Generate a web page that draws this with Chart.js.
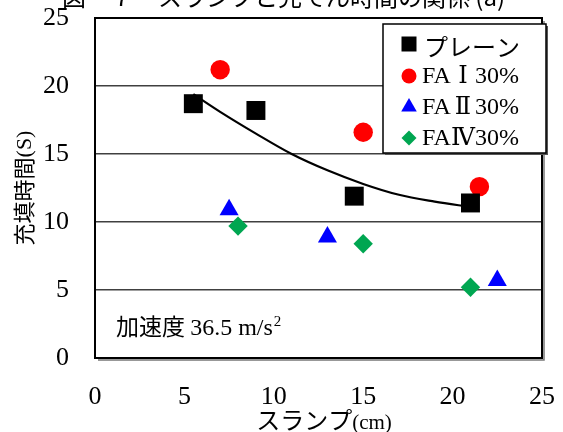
<!DOCTYPE html>
<html>
<head>
<meta charset="utf-8">
<script src="https://cdn.jsdelivr.net/npm/chart.js@4.4.0/dist/chart.umd.min.js"></script>
<style>
  body { margin: 0; background: #fff; }
  canvas { display: block; }
</style>
</head>
<body>
<canvas id="chart" width="563" height="432"></canvas>
<script>
// values
const plainX = [5.5, 9, 14.5, 21];
const plainY = [18.7, 18.2, 11.9, 11.4];
const fa1X = [7, 15, 21.5];
const fa1Y = [21.2, 16.6, 12.6];
const fa2X = [7.5, 13, 22.5];
const fa2Y = [10.9, 8.9, 5.7];
const fa4X = [8, 15, 21];
const fa4Y = [9.7, 8.4, 5.2];
// trend curve through the plain series
const trendX = [5.5, 7, 9, 11, 13, 15, 17, 19, 21];
const trendY = [19.4, 18.1, 16.5, 15.0, 13.8, 12.8, 12.0, 11.5, 11.1];

const seriesNames = ["プレーン", "FAⅠ30%", "FAⅡ30%", "FAⅣ30%"];
const titleText = "図－７－スランプと充てん時間の関係 (a)";

const SERIF = "'Liberation Serif', 'DejaVu Serif', 'Noto Sans CJK JP'";
const JP = "'Noto Sans CJK JP'";

function pts(xs, ys) {
  return xs.map((x, i) => ({ x: x, y: ys[i] }));
}

// draws a run of text pieces with different fonts
function drawPieces(ctx, pieces, x, y) {
  let cx = x;
  pieces.forEach((p) => {
    ctx.font = p.font;
    const w = ctx.measureText(p.text).width;
    const box = p.box || w;
    ctx.fillText(p.text, cx + (box - w) / 2, y + (p.dy || 0));
    cx += box;
  });
  return cx - x;
}
function piecesWidth(ctx, pieces) {
  let w = 0;
  pieces.forEach((p) => {
    ctx.font = p.font;
    w += p.box || ctx.measureText(p.text).width;
  });
  return w;
}

function marker(ctx, style, x, y, r, color) {
  ctx.fillStyle = color;
  ctx.beginPath();
  if (style === "rect") {
    ctx.rect(x - r, y - r, 2 * r, 2 * r);
  } else if (style === "circle") {
    ctx.arc(x, y, r, 0, Math.PI * 2);
  } else if (style === "triangle") {
    ctx.moveTo(x, y - r);
    ctx.lineTo(x + r * 0.866, y + r / 2);
    ctx.lineTo(x - r * 0.866, y + r / 2);
    ctx.closePath();
  } else {
    ctx.moveTo(x, y - r);
    ctx.lineTo(x + r, y);
    ctx.lineTo(x, y + r);
    ctx.lineTo(x - r, y);
    ctx.closePath();
  }
  ctx.fill();
}

const decorPlugin = {
  id: "decor",
  beforeDatasetsDraw(chart) {
    const ctx = chart.ctx;
    const a = chart.chartArea;
    ctx.save();
    // soft shadow of the frame
    ctx.strokeStyle = "#777";
    ctx.lineWidth = 1.5;
    ctx.beginPath();
    ctx.moveTo(a.right + 2, a.top + 3);
    ctx.lineTo(a.right + 2, a.bottom + 2);
    ctx.lineTo(a.left + 3, a.bottom + 2);
    ctx.stroke();
    ctx.strokeStyle = "#000";
    ctx.lineWidth = 2;
    ctx.strokeRect(a.left, a.top, a.right - a.left, a.bottom - a.top);
    ctx.restore();
  },
  afterDraw(chart) {
    const ctx = chart.ctx;
    const a = chart.chartArea;
    ctx.save();
    ctx.fillStyle = "#000";
    ctx.textBaseline = "alphabetic";

    // title (cut off by the top edge, as in the figure)
    ctx.font = "24px " + JP;
    ctx.textAlign = "left";
    ctx.fillText(titleText, 62, 6);

    // x axis title
    const xt = [
      { text: "スランプ", font: "24px " + JP },
      { text: "(cm)", font: "21px " + SERIF },
    ];
    const xw = piecesWidth(ctx, xt);
    drawPieces(ctx, xt, 324 - xw / 2, 429);

    // y axis title
    ctx.save();
    ctx.translate(24, (a.top + a.bottom) / 2);
    ctx.rotate(-Math.PI / 2);
    ctx.textBaseline = "middle";
    const yt = [
      { text: "充填時間", font: "22px " + JP },
      { text: "(S)", font: "22px " + SERIF, dy: 1 },
    ];
    const yw = piecesWidth(ctx, yt);
    drawPieces(ctx, yt, -yw / 2, 0);
    ctx.restore();

    // acceleration note
    const w = drawPieces(ctx, [
      { text: "加速度 ", font: "23px " + JP },
      { text: "36.5 m/s", font: "24px " + SERIF },
    ], 116, 335);
    ctx.font = "15px " + SERIF;
    ctx.fillText("2", 116 + w + 1, 326);

    // legend box
    const lx = 383, ly = 24, lw = 163, lh = 129;
    ctx.fillStyle = "#555";
    ctx.fillRect(lx + 2, ly + 2, lw, lh);
    ctx.fillStyle = "#fff";
    ctx.fillRect(lx, ly, lw, lh);
    ctx.strokeStyle = "#000";
    ctx.lineWidth = 1.5;
    ctx.strokeRect(lx, ly, lw, lh);

    const rows = [47, 76, 107, 138];
    const styles = ["rect", "circle", "triangle", "rectRot"];
    const colors = ["#000000", "#ff0000", "#0000ff", "#00a651"];
    const sizes = [7.5, 7.5, 9, 7.5];
    rows.forEach((ry, i) => {
      marker(ctx, styles[i], 409, ry - (i === 0 ? 3 : 0), sizes[i], colors[i]);
      ctx.fillStyle = "#000";
      ctx.textBaseline = "middle";
      const name = seriesNames[i];
      if (i === 0) {
        ctx.font = "24px " + JP;
        ctx.fillText(name, 424, ry);
      } else {
        // full-width roman numeral, as in the figure
        const m = name.match(/^(FA)([ⅠⅡⅣ])(.*)$/);
        drawPieces(ctx, [
          { text: m[1], font: "24px " + SERIF },
          { text: m[2], font: "24px " + SERIF, box: 24 },
          { text: m[3], font: "24px " + SERIF },
        ], 422, ry + 1);
      }
    });
    ctx.restore();
  },
};

const ctx = document.getElementById("chart").getContext("2d");
new Chart(ctx, {
  type: "scatter",
  data: {
    datasets: [
      {
        type: "line",
        label: "trend",
        data: pts(trendX, trendY),
        borderColor: "#000",
        borderWidth: 2.2,
        pointRadius: 0,
        tension: 0.4,
        cubicInterpolationMode: "monotone",
        fill: false,
        order: 0,
      },
      {
        label: seriesNames[0],
        data: pts(plainX, plainY),
        pointStyle: "rect",
        pointRadius: 13.4,
        backgroundColor: "#000000",
        borderWidth: 0,
        order: 1,
      },
      {
        label: seriesNames[1],
        data: pts(fa1X, fa1Y),
        pointStyle: "circle",
        pointRadius: 9.7,
        backgroundColor: "#ff0000",
        borderWidth: 0,
        order: 2,
      },
      {
        label: seriesNames[2],
        data: pts(fa2X, fa2Y),
        pointStyle: "triangle",
        pointRadius: 11,
        backgroundColor: "#0000ff",
        borderWidth: 0,
        order: 3,
      },
      {
        label: seriesNames[3],
        data: pts(fa4X, fa4Y),
        pointStyle: "rectRot",
        pointRadius: 9.7,
        backgroundColor: "#00a651",
        borderWidth: 0,
        order: 4,
      },
    ],
  },
  options: {
    responsive: false,
    animation: false,
    layout: { padding: { top: 18, right: 21, left: 0, bottom: 0 } },
    plugins: {
      legend: { display: false },
      tooltip: { enabled: false },
    },
    scales: {
      x: {
        type: "linear",
        min: 0,
        max: 25,
        ticks: {
          stepSize: 5,
          color: "#000",
          padding: 24,
          font: { family: SERIF, size: 26 },
        },
        grid: { display: false, drawTicks: false },
        border: { display: false },
        afterFit(scale) {
          scale.height = 74;
          scale.paddingLeft = 0;
          scale.paddingRight = 0;
        },
      },
      y: {
        min: 0,
        max: 25,
        ticks: {
          stepSize: 5,
          color: "#000",
          padding: 26,
          font: { family: SERIF, size: 26 },
        },
        grid: {
          drawTicks: false,
          lineWidth: 1.5,
          color: (c) => (c.tick && (c.tick.value === 0 || c.tick.value === 25) ? "rgba(0,0,0,0)" : "#404040"),
        },
        border: { display: false },
        afterFit(scale) {
          scale.width = 95;
          scale.paddingTop = 0;
          scale.paddingBottom = 0;
        },
      },
    },
  },
  plugins: [decorPlugin],
});
</script>
</body>
</html>
